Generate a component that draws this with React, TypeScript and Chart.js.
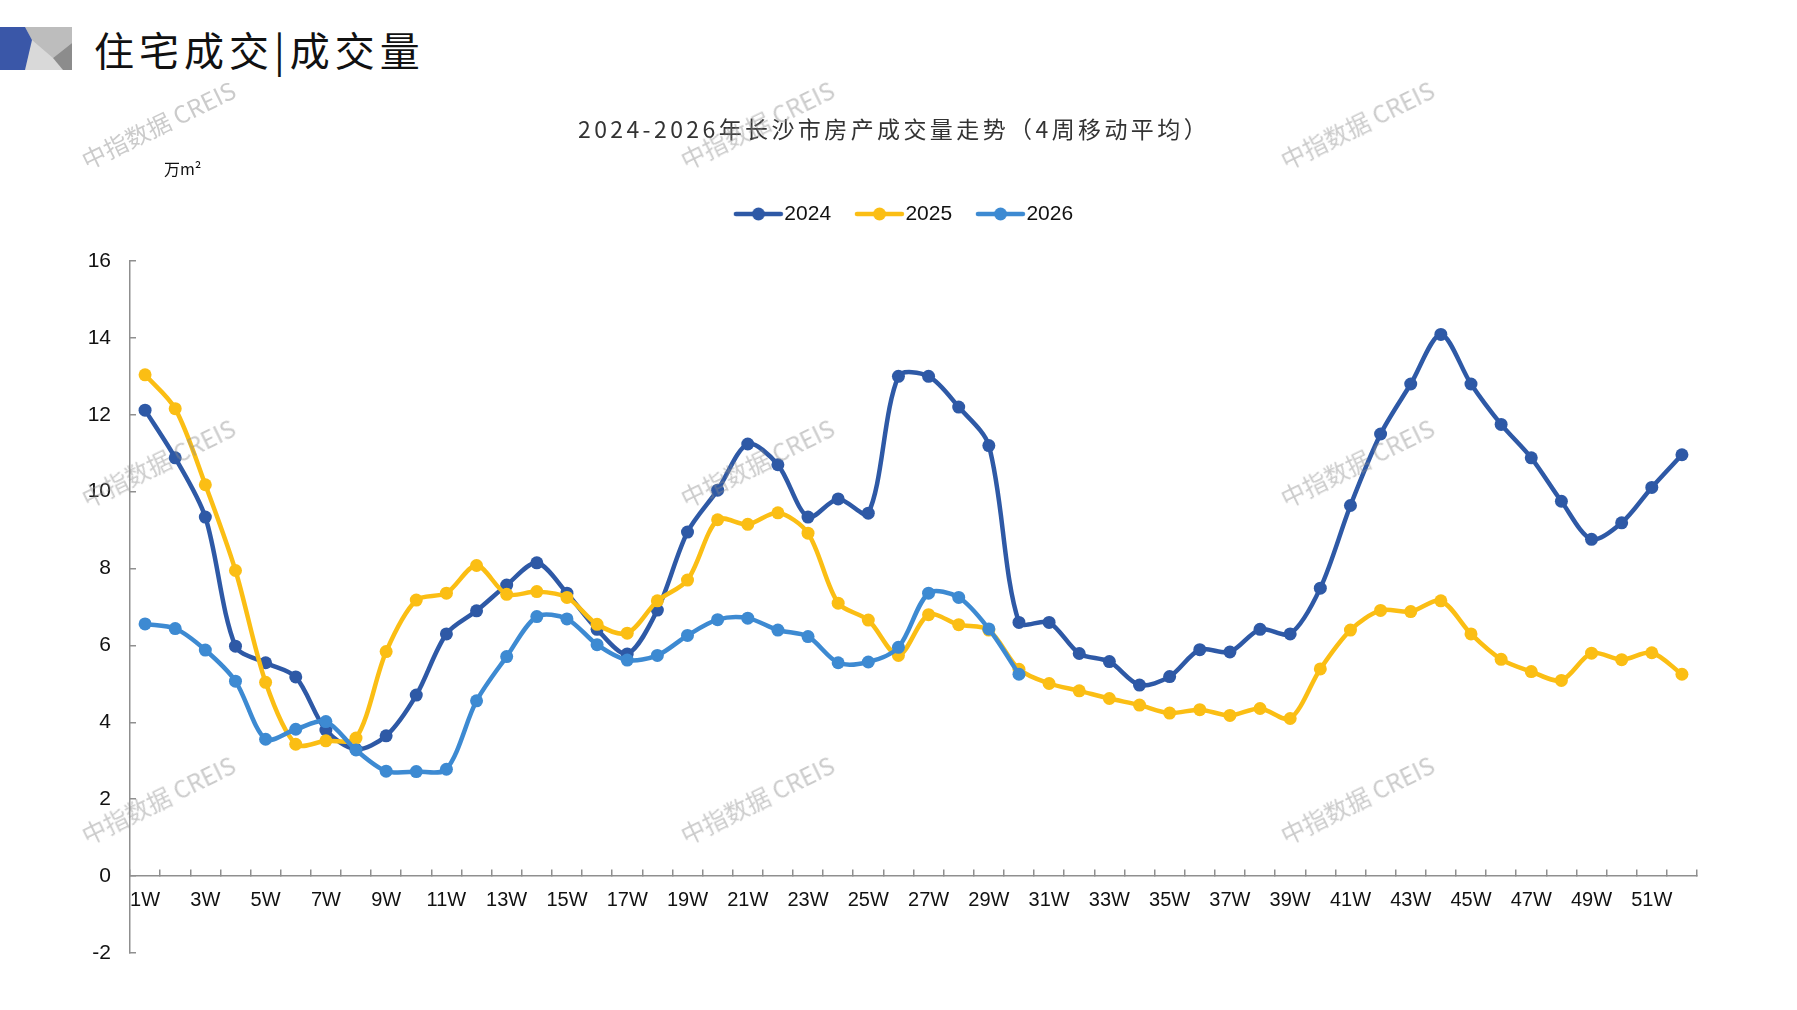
import { useEffect, useRef } from 'react';
import { Chart, registerables } from 'chart.js';

Chart.register(...registerables);

const weeks = [
  '1W', '2W', '3W', '4W', '5W', '6W', '7W', '8W', '9W', '10W',
  '11W', '12W', '13W', '14W', '15W', '16W', '17W', '18W', '19W', '20W',
  '21W', '22W', '23W', '24W', '25W', '26W', '27W', '28W', '29W', '30W',
  '31W', '32W', '33W', '34W', '35W', '36W', '37W', '38W', '39W', '40W',
  '41W', '42W', '43W', '44W', '45W', '46W', '47W', '48W', '49W', '50W',
  '51W', '52W',
];

const weekTicks = [
  '1W', '3W', '5W', '7W', '9W', '11W', '13W', '15W', '17W', '19W', '21W', '23W', '25W',
  '27W', '29W', '31W', '33W', '35W', '37W', '39W', '41W', '43W', '45W', '47W', '49W', '51W',
];

const yTicks = [-2, 0, 2, 4, 6, 8, 10, 12, 14, 16];

const series2024 = [
  12.12, 10.88, 9.34, 5.98, 5.55, 5.18, 3.8, 3.3, 3.65, 4.71,
  6.3, 6.9, 7.57, 8.15, 7.36, 6.42, 5.78, 6.92, 8.95, 10.04,
  11.24, 10.7, 9.34, 9.81, 9.44, 13.0, 13.0, 12.2, 11.2, 6.6,
  6.6, 5.79, 5.58, 4.97, 5.19, 5.89, 5.83, 6.42, 6.3, 7.49,
  9.64, 11.5, 12.8, 14.09, 12.8, 11.75, 10.88, 9.75, 8.76, 9.19,
  10.11, 10.96,
];

const series2025 = [
  13.04, 12.16, 10.18, 7.95, 5.04, 3.43, 3.52, 3.59, 5.84, 7.18,
  7.36, 8.08, 7.33, 7.4, 7.25, 6.55, 6.32, 7.16, 7.7, 9.27,
  9.15, 9.45, 8.92, 7.1, 6.66, 5.74, 6.8, 6.54, 6.4, 5.38,
  5.01, 4.82, 4.62, 4.45, 4.24, 4.33, 4.18, 4.36, 4.1, 5.39,
  6.4, 6.91, 6.88, 7.16, 6.3, 5.64, 5.32, 5.09, 5.8, 5.63,
  5.81, 5.25,
];

const series2026 = [
  6.56, 6.44, 5.88, 5.07, 3.56, 3.82, 4.02, 3.28, 2.73, 2.72,
  2.78, 4.56, 5.71, 6.75, 6.69, 6.02, 5.62, 5.74, 6.26, 6.67,
  6.71, 6.4, 6.23, 5.55, 5.57, 5.95, 7.36, 7.25, 6.43, 5.25,
];

const seriesNames = ['2024', '2025', '2026'];
const seriesColors = ['#2E59A6', '#FBBE14', '#3D8AD2'];

const AXIS_GRAY = '#8f8f8f';
const NARROW = "'Liberation Sans Narrow', 'Liberation Sans', sans-serif";
const CJK = "'Noto Sans CJK SC', 'Noto Sans', sans-serif";

// watermark centres on the page
const watermarks = [
  [158, 124], [757, 124], [1357, 124],
  [158, 462], [757, 462], [1357, 462],
  [158, 799], [757, 799], [1357, 799],
];

// "line with a dot" picture for the legend; drawn off-centre so it sits
// just left of the text like in the original
function legendMarker(color: string) {
  const c = document.createElement('canvas');
  c.width = 70;
  c.height = 16;
  const g = c.getContext('2d');
  if (g) {
    g.strokeStyle = color;
    g.lineWidth = 4.5;
    g.lineCap = 'round';
    g.beginPath();
    g.moveTo(22, 8);
    g.lineTo(67, 8);
    g.stroke();
    g.fillStyle = color;
    g.beginPath();
    g.arc(44.6, 8, 6.5, 0, Math.PI * 2);
    g.fill();
  }
  return c;
}

function VolumeChart() {
  const canvasRef = useRef<HTMLCanvasElement>(null);
  const chartRef = useRef<Chart | null>(null);

  useEffect(() => {
    if (!canvasRef.current) return;
    const ctx = canvasRef.current.getContext('2d');
    if (!ctx) return;

    if (chartRef.current) {
      chartRef.current.destroy();
    }

    const markers = seriesColors.map(legendMarker);
    const allSeries = [series2024, series2025, series2026];

    chartRef.current = new Chart(ctx, {
      type: 'line',
      data: {
        labels: weeks,
        datasets: allSeries.map((values, i) => ({
          label: seriesNames[i],
          data: values,
          xAxisID: 'x',
          yAxisID: 'y',
          borderColor: seriesColors[i],
          backgroundColor: seriesColors[i],
          borderWidth: 4.5,
          tension: 0.3,
          pointRadius: 6.5,
          pointBorderWidth: 0,
          pointBackgroundColor: seriesColors[i],
          fill: false,
          order: 3 - i,
        })),
      },
      options: {
        responsive: true,
        maintainAspectRatio: false,
        animation: false,
        events: [],
        layout: {
          padding: { left: 0, right: 0, top: 189.7, bottom: 57 },
        },
        plugins: {
          title: { display: false },
          tooltip: { enabled: false },
          legend: {
            display: true,
            position: 'top',
            align: 'center',
            labels: {
              usePointStyle: true,
              pointStyleWidth: 50,
              boxHeight: 16,
              padding: 13.8,
              color: '#111',
              font: { family: "'Liberation Sans', sans-serif", size: 21 },
              sort: (a, b) => (a.datasetIndex ?? 0) - (b.datasetIndex ?? 0),
              generateLabels: (chart) =>
                Chart.defaults.plugins.legend.labels
                  .generateLabels(chart)
                  .map((item) => ({ ...item, pointStyle: markers[item.datasetIndex ?? 0] })),
            },
          },
        },
        scales: {
          x: {
            type: 'category',
            position: { y: 0 },
            offset: true,
            grid: {
              display: true,
              drawOnChartArea: false,
              drawTicks: true,
              tickLength: -7,
              offset: true,
              color: AXIS_GRAY,
              lineWidth: 1.5,
            },
            border: { display: true, color: AXIS_GRAY, width: 1.5 },
            ticks: {
              autoSkip: false,
              maxRotation: 0,
              minRotation: 0,
              padding: 19,
              color: '#111',
              font: { family: NARROW, size: 20 },
              callback: (_value, index) => {
                const label = weeks[index];
                return weekTicks.includes(label) ? label : '';
              },
            },
          },
          y: {
            type: 'linear',
            position: 'left',
            min: -2,
            max: 16,
            afterBuildTicks: (scale) => {
              scale.ticks = yTicks.map((v) => ({ value: v }));
            },
            afterFit: (scale) => {
              scale.width = 130;
            },
            grid: {
              display: true,
              drawOnChartArea: false,
              drawTicks: true,
              tickLength: -6,
              color: AXIS_GRAY,
              lineWidth: 1.5,
            },
            border: { display: true, color: AXIS_GRAY, width: 1.5 },
            ticks: {
              padding: 25,
              color: '#111',
              font: { family: NARROW, size: 21 },
            },
          },
          // empty band between the legend and the plot
          gapTop: {
            type: 'linear',
            position: 'top',
            display: true,
            grid: { display: false },
            border: { display: false },
            ticks: { display: false },
            afterFit: (scale) => {
              scale.height = 26.5;
            },
          },
          // empty band right of the plot
          gapRight: {
            type: 'linear',
            position: 'right',
            display: true,
            grid: { display: false },
            border: { display: false },
            ticks: { display: false },
            afterFit: (scale) => {
              scale.width = 100;
            },
          },
        },
      },
    });

    return () => {
      if (chartRef.current) {
        chartRef.current.destroy();
        chartRef.current = null;
      }
    };
  }, []);

  return (
    <div style={{ position: 'absolute', left: 0, top: 0, width: 1797, height: 1010 }}>
      <canvas ref={canvasRef} style={{ display: 'block' }} />
    </div>
  );
}

export default function App() {
  return (
    <div
      style={{
        position: 'absolute',
        left: 0,
        top: 0,
        width: 1797,
        height: 1010,
        background: '#fff',
        overflow: 'hidden',
        fontFamily: CJK,
      }}
    >
      <svg
        width={72}
        height={43}
        viewBox="0 0 72 43"
        style={{ position: 'absolute', left: 0, top: 27 }}
      >
        <polygon points="0,0 72,0 72,43 0,43" fill="#d9d9d9" />
        <polygon points="25,0 72,0 72,16 53,31 32,13" fill="#bdbdbd" />
        <polygon points="53,31 72,16 72,43 63,43" fill="#8c8c8c" />
        <polygon points="0,0 25,0 32,13 25,43 0,43" fill="#3A57A8" />
      </svg>

      <div
        style={{
          position: 'absolute',
          left: 94,
          top: 28,
          fontSize: 40,
          lineHeight: '42px',
          letterSpacing: 5,
          color: '#111',
          whiteSpace: 'nowrap',
        }}
      >
        住宅成交|成交量
      </div>

      <VolumeChart />

      <div
        style={{
          position: 'absolute',
          left: 894,
          top: 114,
          transform: 'translateX(-50%)',
          fontSize: 23,
          lineHeight: '28px',
          letterSpacing: 3.4,
          color: '#333',
          whiteSpace: 'nowrap',
        }}
      >
        2024-2026年长沙市房产成交量走势（4周移动平均）
      </div>

      <div
        style={{
          position: 'absolute',
          left: 164,
          top: 158,
          fontSize: 16,
          lineHeight: '20px',
          color: '#111',
          whiteSpace: 'nowrap',
        }}
      >
        万m²
      </div>

      {watermarks.map(([cx, cy], i) => (
        <div
          key={i}
          style={{
            position: 'absolute',
            left: cx,
            top: cy,
            transform: 'translate(-50%, -50%) rotate(-26deg)',
            fontSize: 24,
            color: 'rgba(140, 140, 140, 0.45)',
            whiteSpace: 'nowrap',
            pointerEvents: 'none',
          }}
        >
          中指数据 CREIS
        </div>
      ))}
    </div>
  );
}
